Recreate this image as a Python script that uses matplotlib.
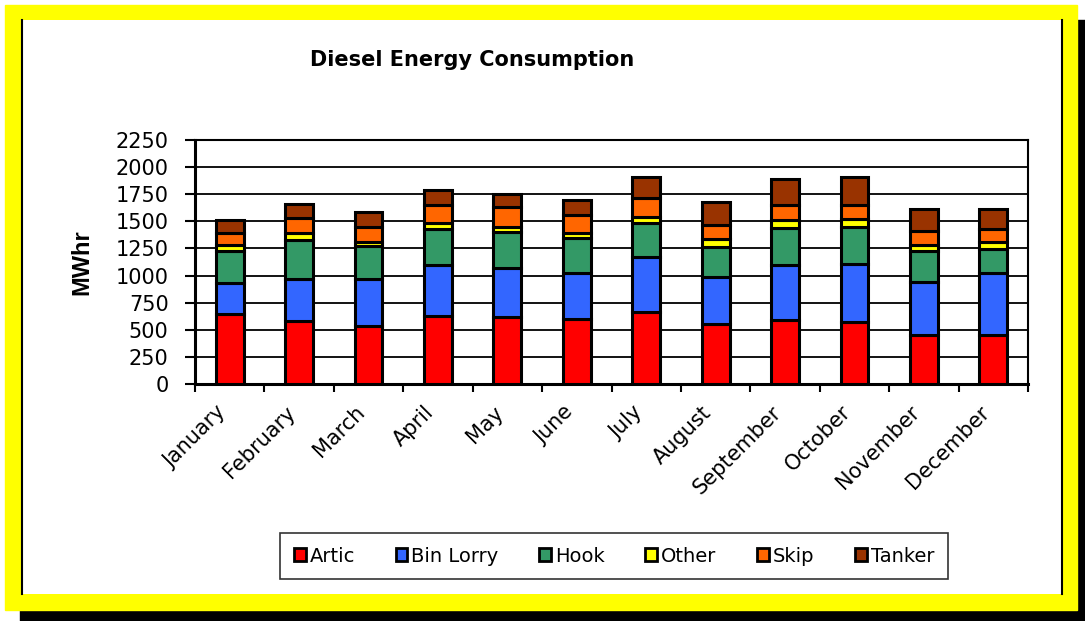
import matplotlib
matplotlib.use("Agg")
import matplotlib.pyplot as plt
from matplotlib.patches import Rectangle
import numpy as np

plt.rcParams['font.family'] = ['DejaVu Sans']

# ---- data (MWhr) ----
months = ["January", "February", "March", "April", "May", "June", "July",
          "August", "September", "October", "November", "December"]
artic = [645, 584, 538, 630, 615, 602, 667, 553, 590, 569, 455, 455]
bin_lorry = [289, 387, 433, 470, 452, 424, 507, 437, 504, 538, 483, 566]
hook = [295, 357, 299, 332, 332, 323, 314, 276, 348, 344, 285, 221]
other = [53, 62, 39, 50, 52, 46, 55, 71, 70, 73, 56, 65]
skip = [113, 138, 136, 171, 184, 166, 175, 132, 141, 129, 129, 119]
tanker = [117, 132, 141, 133, 117, 133, 188, 209, 237, 256, 203, 185]

series_names = ["Artic", "Bin Lorry", "Hook", "Other", "Skip", "Tanker"]
series_colors = ["#FF0000", "#3366FF", "#339966", "#FFFF00", "#FF6600", "#993300"]
y_ticks = [0, 250, 500, 750, 1000, 1250, 1500, 1750, 2000, 2250]

W, H = 1085, 621
fig = plt.figure(figsize=(W / 100, H / 100), dpi=100)

# ---- background frame: shadow, yellow border, white panel ----
bg = fig.add_axes([0, 0, 1, 1], zorder=-10)
bg.set_xlim(0, W)
bg.set_ylim(H, 0)
bg.axis("off")
bg.add_patch(Rectangle((20, 20), W - 20, H - 20, color="black"))
bg.add_patch(Rectangle((5, 5), 1072, 605, color="#FFFF00"))
bg.add_patch(Rectangle((22, 20), 1040, 574, facecolor="white", edgecolor="none"))
bg.plot([22, 22], [20, 594], color="black", lw=1.5)
bg.plot([1062, 1062], [20, 594], color="black", lw=1.5)

# ---- stacked bars ----
ax = fig.add_axes([195 / W, 1 - 384 / H, (1028 - 195) / W, (384 - 140) / H])
x = np.arange(len(months))
bottom = np.zeros(len(months))
for name, vals, col in zip(series_names,
                           [artic, bin_lorry, hook, other, skip, tanker],
                           series_colors):
    ax.bar(x, vals, 0.4, bottom=bottom, color=col, edgecolor="black",
           linewidth=2.2, label=name, zorder=3)
    bottom += np.array(vals)

ax.set_xlim(-0.5, len(months) - 0.5)
ax.set_ylim(0, 2250)
ax.set_yticks(y_ticks)
ax.set_yticklabels([str(v) for v in y_ticks], fontsize=15)
ax.yaxis.grid(True, color="black", linewidth=1.3, zorder=0)
ax.set_axisbelow(True)

ax.set_xticks(x)
ax.set_xticklabels(months, rotation=45, ha="right", fontsize=15)
ax.set_xticks(np.arange(len(months) + 1) - 0.5, minor=True)
ax.tick_params(axis="x", which="major", length=0, pad=13)
ax.tick_params(axis="x", which="minor", length=6, width=1.5, direction="out")
ax.tick_params(axis="y", length=7, width=1.5, direction="out", pad=12)

for side in ["left", "bottom"]:
    ax.spines[side].set_linewidth(2.2)
for side in ["top", "right"]:
    ax.spines[side].set_linewidth(1.5)

ax.set_ylabel("MWhr", fontsize=17, fontweight="bold", labelpad=16,
              family="Liberation Sans")
fig.text(472 / W, 1 - 60 / H, "Diesel Energy Consumption", fontsize=15,
         fontweight="bold", ha="center", va="center")

# ---- legend ----
handles = [Rectangle((0, 0), 1, 1, facecolor=c, edgecolor="black", linewidth=2)
           for c in series_colors]
leg = fig.legend(handles, series_names, loc="center",
                 bbox_to_anchor=(614 / W, 1 - 556 / H), ncol=6, fontsize=14,
                 frameon=True, fancybox=False, edgecolor="black",
                 handlelength=0.6, handleheight=0.6, handletextpad=0.2,
                 columnspacing=2.1, borderpad=0.7, borderaxespad=0)
leg.get_frame().set_linewidth(1.2)

fig.savefig("out.png", dpi=100)
